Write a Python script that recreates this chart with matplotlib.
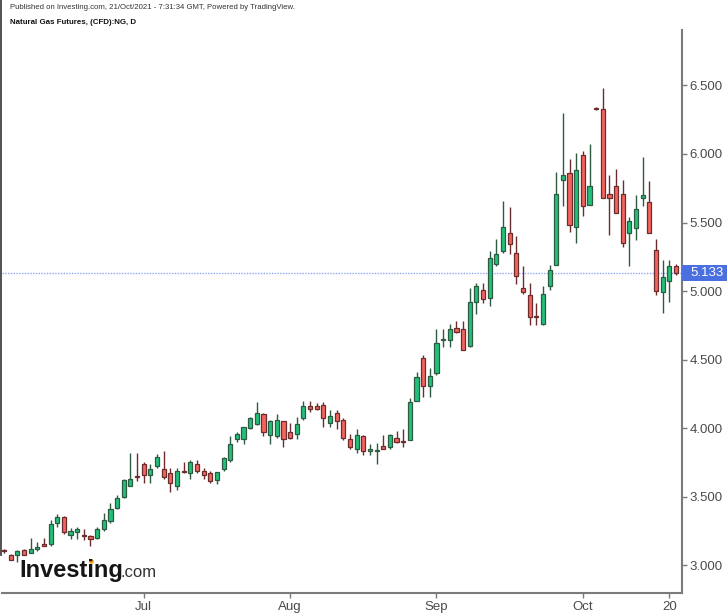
import pandas as pd
import matplotlib
matplotlib.use('Agg')
import matplotlib.pyplot as plt
import matplotlib.transforms as mtransforms
from matplotlib.patches import Rectangle
from matplotlib.lines import Line2D

plt.rcParams['font.family'] = ['Liberation Sans', 'DejaVu Sans']

# daily candles, Natural Gas futures (CFD), 2 Jun - 21 Oct 2021
dates = pd.bdate_range('2021-06-02', '2021-10-21')

opens = [3.11, 3.07, 3.07, 3.11, 3.09, 3.12, 3.15, 3.15, 3.31, 3.35,
         3.22, 3.24, 3.22, 3.21, 3.20, 3.26, 3.32, 3.42, 3.50, 3.58,
         3.65, 3.74, 3.66, 3.72, 3.70, 3.67, 3.58, 3.69, 3.67, 3.74,
         3.69, 3.67, 3.62, 3.70, 3.77, 3.92, 3.92, 4.00, 4.03, 4.10,
         3.95, 3.94, 4.05, 3.97, 3.96, 4.07, 4.16, 4.16, 4.17, 4.04,
         4.11, 4.06, 3.92, 3.85, 3.94, 3.83, 3.83, 3.87, 3.86, 3.93,
         3.905, 3.91, 4.20, 4.51, 4.31, 4.40, 4.64, 4.64, 4.73, 4.72,
         4.60, 4.92, 5.01, 4.95, 5.20, 5.29, 5.42, 5.28, 5.02, 4.97,
         4.82, 4.76, 5.04, 5.19, 5.81, 5.86, 5.47, 5.99, 5.63, 6.335,
         6.33, 5.71, 5.77, 5.71, 5.42, 5.46, 5.68, 5.65, 5.30, 4.99,
         5.07, 5.18]
highs = [3.12, 3.08, 3.11, 3.12, 3.20, 3.17, 3.20, 3.33, 3.37, 3.36,
         3.27, 3.28, 3.26, 3.22, 3.28, 3.38, 3.45, 3.51, 3.63, 3.82,
         3.82, 3.75, 3.74, 3.81, 3.83, 3.71, 3.71, 3.75, 3.77, 3.77,
         3.71, 3.69, 3.68, 3.79, 3.94, 3.97, 4.01, 4.08, 4.19, 4.11,
         4.06, 4.10, 4.05, 4.04, 4.08, 4.20, 4.20, 4.18, 4.19, 4.13,
         4.13, 4.07, 3.96, 3.99, 3.95, 3.88, 3.89, 3.95, 3.96, 3.98,
         3.99, 4.22, 4.41, 4.53, 4.44, 4.72, 4.72, 4.76, 4.78, 4.78,
         5.02, 5.06, 5.06, 5.29, 5.38, 5.66, 5.61, 5.40, 5.18, 5.06,
         4.91, 5.04, 5.19, 5.87, 6.30, 5.96, 6.01, 6.02, 6.07, 6.34,
         6.48, 5.85, 5.89, 5.81, 5.54, 5.70, 5.98, 5.80, 5.38, 5.23,
         5.23, 5.20]
lows = [3.09, 3.04, 3.02, 3.07, 3.09, 3.10, 3.14, 3.14, 3.28, 3.23,
        3.19, 3.19, 3.18, 3.14, 3.19, 3.25, 3.31, 3.41, 3.49, 3.58,
        3.61, 3.60, 3.60, 3.71, 3.63, 3.53, 3.55, 3.67, 3.63, 3.67,
        3.63, 3.60, 3.59, 3.69, 3.75, 3.90, 3.88, 3.99, 4.02, 3.94,
        3.88, 3.93, 3.86, 3.92, 3.92, 4.06, 4.12, 4.13, 4.01, 4.01,
        3.99, 3.91, 3.85, 3.82, 3.80, 3.80, 3.74, 3.85, 3.85, 3.89,
        3.86, 3.91, 4.20, 4.23, 4.23, 4.39, 4.59, 4.59, 4.69, 4.57,
        4.59, 4.83, 4.91, 4.89, 5.18, 5.28, 5.27, 5.05, 4.98, 4.75,
        4.75, 4.75, 5.01, 5.19, 5.62, 5.43, 5.35, 5.55, 5.63, 6.32,
        5.68, 5.41, 5.57, 5.32, 5.18, 5.37, 5.62, 5.42, 4.97, 4.84,
        4.92, 5.12]
closes = [3.10, 3.04, 3.10, 3.07, 3.12, 3.13, 3.14, 3.30, 3.35, 3.24,
          3.25, 3.26, 3.21, 3.19, 3.26, 3.33, 3.41, 3.49, 3.62, 3.63,
          3.645, 3.66, 3.70, 3.79, 3.64, 3.60, 3.69, 3.68, 3.75, 3.69,
          3.66, 3.61, 3.68, 3.78, 3.88, 3.96, 4.01, 4.07, 4.11, 3.97,
          4.05, 4.06, 3.92, 3.93, 4.03, 4.16, 4.14, 4.14, 4.07, 4.09,
          4.05, 3.93, 3.86, 3.95, 3.83, 3.85, 3.84, 3.85, 3.95, 3.90,
          3.90, 4.19, 4.37, 4.31, 4.38, 4.62, 4.645, 4.72, 4.70, 4.57,
          4.92, 5.04, 4.94, 5.24, 5.27, 5.47, 5.34, 5.11, 4.99, 4.81,
          4.81, 4.98, 5.15, 5.71, 5.85, 5.48, 5.88, 5.62, 5.77, 6.325,
          5.68, 5.68, 5.57, 5.35, 5.51, 5.60, 5.70, 5.42, 5.00, 5.10,
          5.18, 5.133]

last_price = 5.133
price_ticks = [3.0, 3.5, 4.0, 4.5, 5.0, 5.5, 6.0, 6.5]
month_ticks = ['2021-07-01', '2021-08-02', '2021-09-01', '2021-10-01', '2021-10-20']
month_labels = ['Jul', 'Aug', 'Sep', 'Oct', '20']

up_fill, up_edge = '#22c17b', '#2d5a41'
dn_fill, dn_edge = '#f4645f', '#6a2c2c'
axis_col = '#7a7a7a'
text_col = '#4a4a4a'

fig = plt.figure(figsize=(7.27, 6.16), dpi=100)
W, H = 727, 616
ax = fig.add_axes([2 / W, 1 - 593 / H, 680 / W, 563 / H])

x = list(range(len(dates)))
for i in x:
    o, h, l, c = opens[i], highs[i], lows[i], closes[i]
    up = c >= o
    fill = up_fill if up else dn_fill
    edge = up_edge if up else dn_edge
    ax.vlines(i, l, h, color=edge, lw=1, zorder=2)
    body = max(abs(c - o), 0.008)
    ax.bar(i, body, bottom=min(o, c), width=0.62, color=fill,
           edgecolor=edge, linewidth=0.9, zorder=3)

# last price line + tag
ax.axhline(last_price, color='#8fa8f5', lw=1, ls=(0, (1, 1)), zorder=1)
trans = mtransforms.blended_transform_factory(ax.transAxes, ax.transData)
ax.add_patch(Rectangle((1.0, last_price - 0.06), 0.07, 0.12, transform=trans,
                       facecolor='#4a6fe0', edgecolor='none', clip_on=False, zorder=5))
ax.text(1.012, last_price, '%.3f' % last_price, transform=trans, color='white',
        fontsize=9.5, ha='left', va='center', zorder=6, clip_on=False)

ax.set_xlim(-0.3, 101.9)
ax.set_ylim(2.796, 6.905)

ax.yaxis.tick_right()
ax.set_yticks(price_ticks)
ax.set_yticklabels(['%.3f' % v for v in price_ticks])
tick_pos = [dates.get_loc(pd.Timestamp(d)) for d in month_ticks]
ax.set_xticks(tick_pos)
ax.set_xticklabels(month_labels)
ax.tick_params(axis='both', colors=axis_col, labelcolor=text_col, labelsize=9.5,
               length=3.5, width=1, pad=2)

for side in ['top', 'left']:
    ax.spines[side].set_visible(False)
for side in ['right', 'bottom']:
    ax.spines[side].set_color(axis_col)
    ax.spines[side].set_linewidth(1.5)

# left frame edge
fig.add_artist(Line2D([0.8 / W, 0.8 / W], [1, 1 - 555 / H], color='#333333', lw=1.2))

# header
fig.text(10 / W, 1 - 7.5 / H,
         'Published on Investing.com, 21/Oct/2021 - 7:31:34 GMT, Powered by TradingView.',
         fontsize=5.6, color='#333333', va='center', ha='left')
fig.text(10 / W, 1 - 23 / H, 'Natural Gas Futures, (CFD):NG, D',
         fontsize=5.7, color='#111111', weight='bold', va='center', ha='left')

# watermark logo
fig.text(19 / W, 1 - 577 / H, 'Investing', fontsize=17, weight='bold',
         color='#151515', va='baseline', ha='left')
fig.text(121 / W, 1 - 577 / H, '.com', fontsize=12, color='#333333',
         va='baseline', ha='left')
# orange dot over the second "i"
fig.add_artist(Line2D([90.6 / W], [1 - 561.3 / H], marker='o', markersize=3.4,
                      color='#f6a11c', markeredgewidth=0))

fig.savefig('out.png', dpi=100)
